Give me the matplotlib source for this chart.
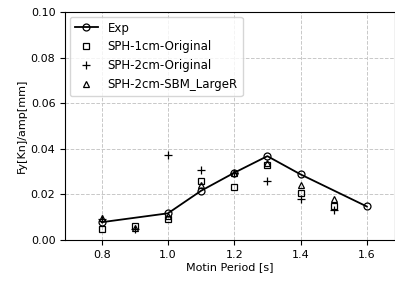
import numpy as np
import matplotlib
matplotlib.use('Agg')
import matplotlib.pyplot as plt

# Motion period [s]
period_exp = [0.8, 1.0, 1.1, 1.2, 1.3, 1.4, 1.6]
fy_exp = [0.0078, 0.0117, 0.0216, 0.0295, 0.0368, 0.0288, 0.0147]

period_sph = [0.8, 0.9, 1.0, 1.1, 1.2, 1.3, 1.4, 1.5]
fy_1cm_orig = [0.0048, 0.0063, 0.0092, 0.0259, 0.0231, 0.0329, 0.0205, 0.0151]
fy_2cm_orig = [0.0090, 0.0047, 0.0373, 0.0307, 0.0295, 0.0260, 0.0178, 0.0132]
fy_2cm_sbm = [0.0095, 0.0053, 0.0105, 0.0241, 0.0295, 0.0336, 0.0241, 0.0178]

fig = plt.figure(figsize=(3.95, 2.82), dpi=100)
ax = fig.add_axes([0.165, 0.149, 0.835, 0.808])

ax.plot(period_exp, fy_exp, '-o', color='black', mfc='none', ms=5, lw=1.3, mew=0.9, label='Exp')
ax.plot(period_sph, fy_1cm_orig, 's', color='black', mfc='none', ms=5, mew=0.9, label='SPH-1cm-Original')
ax.plot(period_sph, fy_2cm_orig, '+', color='black', ms=5.5, mew=0.9, label='SPH-2cm-Original')
ax.plot(period_sph, fy_2cm_sbm, '^', color='black', mfc='none', ms=5, mew=0.9, label='SPH-2cm-SBM_LargeR')

ax.set_xlim(0.69, 1.685)
ax.set_ylim(0, 0.10)
ax.set_xticks([0.8, 1.0, 1.2, 1.4, 1.6])
ax.set_yticks(np.arange(0, 0.101, 0.02))
ax.grid(True, linestyle='--', color='#c8c8c8', lw=0.7)
ax.tick_params(labelsize=8)
ax.set_xlabel('Motin Period [s]', fontsize=8, labelpad=2)
ax.set_ylabel('Fy[Kn]/amp[mm]', fontsize=8, labelpad=3)
ax.legend(loc='upper left', fontsize=8.5, framealpha=0.8, handlelength=2.0,
          borderaxespad=0.4, labelspacing=0.5)

fig.savefig('out.png', dpi=100)
